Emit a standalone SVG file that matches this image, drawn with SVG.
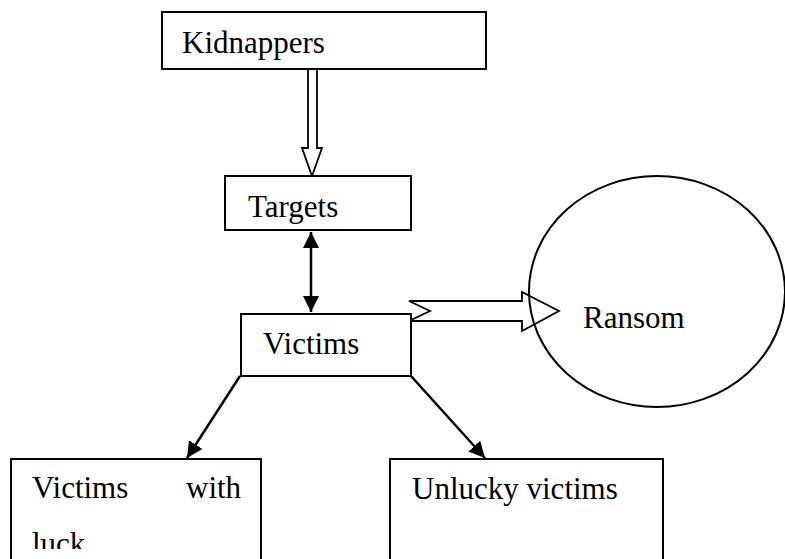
<svg xmlns="http://www.w3.org/2000/svg" width="785" height="559" viewBox="0 0 785 559">
<style>
.box{fill:#fff;stroke:#000;stroke-width:2}
.t{font-family:"Liberation Serif","Times New Roman",serif;font-size:31px;fill:#000}
.ln{stroke:#000;stroke-width:2.5;fill:none}
.hollow{fill:#fff;stroke:#000;stroke-width:1.8;stroke-linejoin:miter}
</style>
<defs>
<marker id="ah" viewBox="0 0 10 10" refX="10" refY="5" markerWidth="16" markerHeight="16" markerUnits="userSpaceOnUse" orient="auto-start-reverse">
<path d="M0,0 L10,5 L0,10 z" fill="#000"/>
</marker>
<clipPath id="clipLuck"><rect x="0" y="0" width="785" height="549"/></clipPath>
</defs>
<rect width="785" height="559" fill="#fff"/>
<g id="connectors">
<polygon class="hollow" points="308,69 308,148 302,148 312,176 322,148 317,148 317,69"/>
<line class="ln" x1="311" y1="232" x2="311" y2="312" marker-start="url(#ah)" marker-end="url(#ah)"/>
<polygon class="hollow" points="409,301 430,311 409,321 522,321 522,331 559,311 522,292 522,301"/>
<line class="ln" x1="240" y1="376" x2="187" y2="458" marker-end="url(#ah)"/>
<line class="ln" x1="411" y1="376" x2="485" y2="458" marker-end="url(#ah)"/>
</g>
<g id="kidnappers">
<rect class="box" x="162" y="12" width="324" height="57"/>
<text class="t" x="182" y="53">Kidnappers</text>
</g>
<g id="targets">
<rect class="box" x="225" y="176" width="186" height="54"/>
<text class="t" x="248" y="217">Targets</text>
</g>
<g id="victims">
<rect class="box" x="241" y="314" width="170" height="62"/>
<text class="t" x="263" y="354">Victims</text>
</g>
<g id="ransom">
<ellipse cx="657" cy="291.5" rx="128" ry="115.5" fill="none" stroke="#000" stroke-width="2"/>
<text class="t" x="583" y="328">Ransom</text>
</g>
<g id="victims-with-luck">
<rect class="box" x="11" y="459" width="250" height="110"/>
<text class="t" x="32" y="498">Victims</text>
<text class="t" x="186" y="498">with</text>
<text class="t" x="32" y="554" clip-path="url(#clipLuck)">luck</text>
</g>
<g id="unlucky-victims">
<rect class="box" x="390" y="459" width="273" height="110"/>
<text class="t" x="412" y="499">Unlucky victims</text>
</g>
</svg>
